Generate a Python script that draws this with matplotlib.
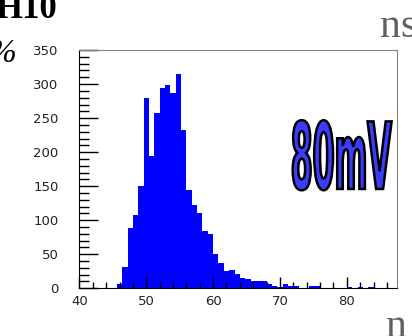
import numpy as np
import matplotlib
matplotlib.use('Agg')
import matplotlib.pyplot as plt
from matplotlib.ticker import MultipleLocator
from matplotlib.textpath import TextPath
from matplotlib.patches import PathPatch
from matplotlib.font_manager import FontProperties
from matplotlib.transforms import Affine2D

# histogram: bins of 0.8 starting at 40
BIN_START = 40.0
BIN_WIDTH = 0.8
counts = [0, 0, 0, 1, 0, 0, 1, 7, 31, 88,
          108, 150, 280, 195, 258, 294, 298, 287, 315, 232,
          144, 122, 111, 84, 80, 50, 37, 26, 27, 21,
          15, 14, 10, 11, 11, 7, 3, 2, 6, 3,
          3, 1, 1, 4, 3, 1, 1, 1, 1, 0,
          2, 1, 2, 1, 2, 1, 1, 1, 1]
label_text = '80mV'

edges = BIN_START + BIN_WIDTH * np.arange(len(counts))

fig = plt.figure(figsize=(4.12, 3.36), dpi=100)
ax = fig.add_axes([0.1927, 0.142, 0.770, 0.709])

ax.bar(edges, counts, width=BIN_WIDTH, align='edge', color='#0000ff', linewidth=0)
ax.set_xlim(40, 87.45)
ax.set_ylim(0, 350)

ax.xaxis.set_major_locator(MultipleLocator(10))
ax.xaxis.set_minor_locator(MultipleLocator(2))
ax.yaxis.set_major_locator(MultipleLocator(50))
ax.yaxis.set_minor_locator(MultipleLocator(10))
ax.tick_params(axis='x', which='major', direction='in', length=8, width=1, pad=5,
               labelsize=9.5, labelcolor='#222222')
ax.tick_params(axis='x', which='minor', direction='in', length=4, width=1)
ax.tick_params(axis='y', which='major', direction='in', length=14, width=1, pad=15,
               labelsize=9.5, labelcolor='#222222')
ax.tick_params(axis='y', which='minor', direction='in', length=7, width=1)

for s in ['top', 'right']:
    ax.spines[s].set_color('#808080')
for s in ['left', 'bottom']:
    ax.spines[s].set_color('black')

# big outlined label, stretched into a box in data units
tp = TextPath((0, 0), label_text, prop=FontProperties(family='DejaVu Sans', weight='bold'))
ext = tp.get_extents()
x0, x1, y0, y1 = 71.9, 86.7, 144, 247
tr = Affine2D().translate(-ext.x0, -ext.y0).scale((x1 - x0) / ext.width, (y1 - y0) / ext.height).translate(x0, y0)
ax.add_patch(PathPatch(tr.transform_path(tp), facecolor='#3c3cff', edgecolor='black', lw=1.8, zorder=5))

# pieces of the surrounding page text
fig.text(57 / 412, 1 - 18 / 336, 'H10', family='Liberation Serif', weight='bold', fontsize=25,
         ha='right', va='baseline', color='black')
fig.text(16 / 412, 1 - 62 / 336, '%', family='Liberation Serif', style='italic', fontsize=24,
         ha='right', va='baseline', color='black')
fig.text(380 / 412, 1 - 37 / 336, 'ns', family='Liberation Serif', fontsize=30,
         ha='left', va='baseline', color='#606060')
fig.text(386 / 412, 1 - 337 / 336, 'n', family='Liberation Serif', fontsize=30,
         ha='left', va='baseline', color='#606060')

fig.savefig('out.png', dpi=100)
